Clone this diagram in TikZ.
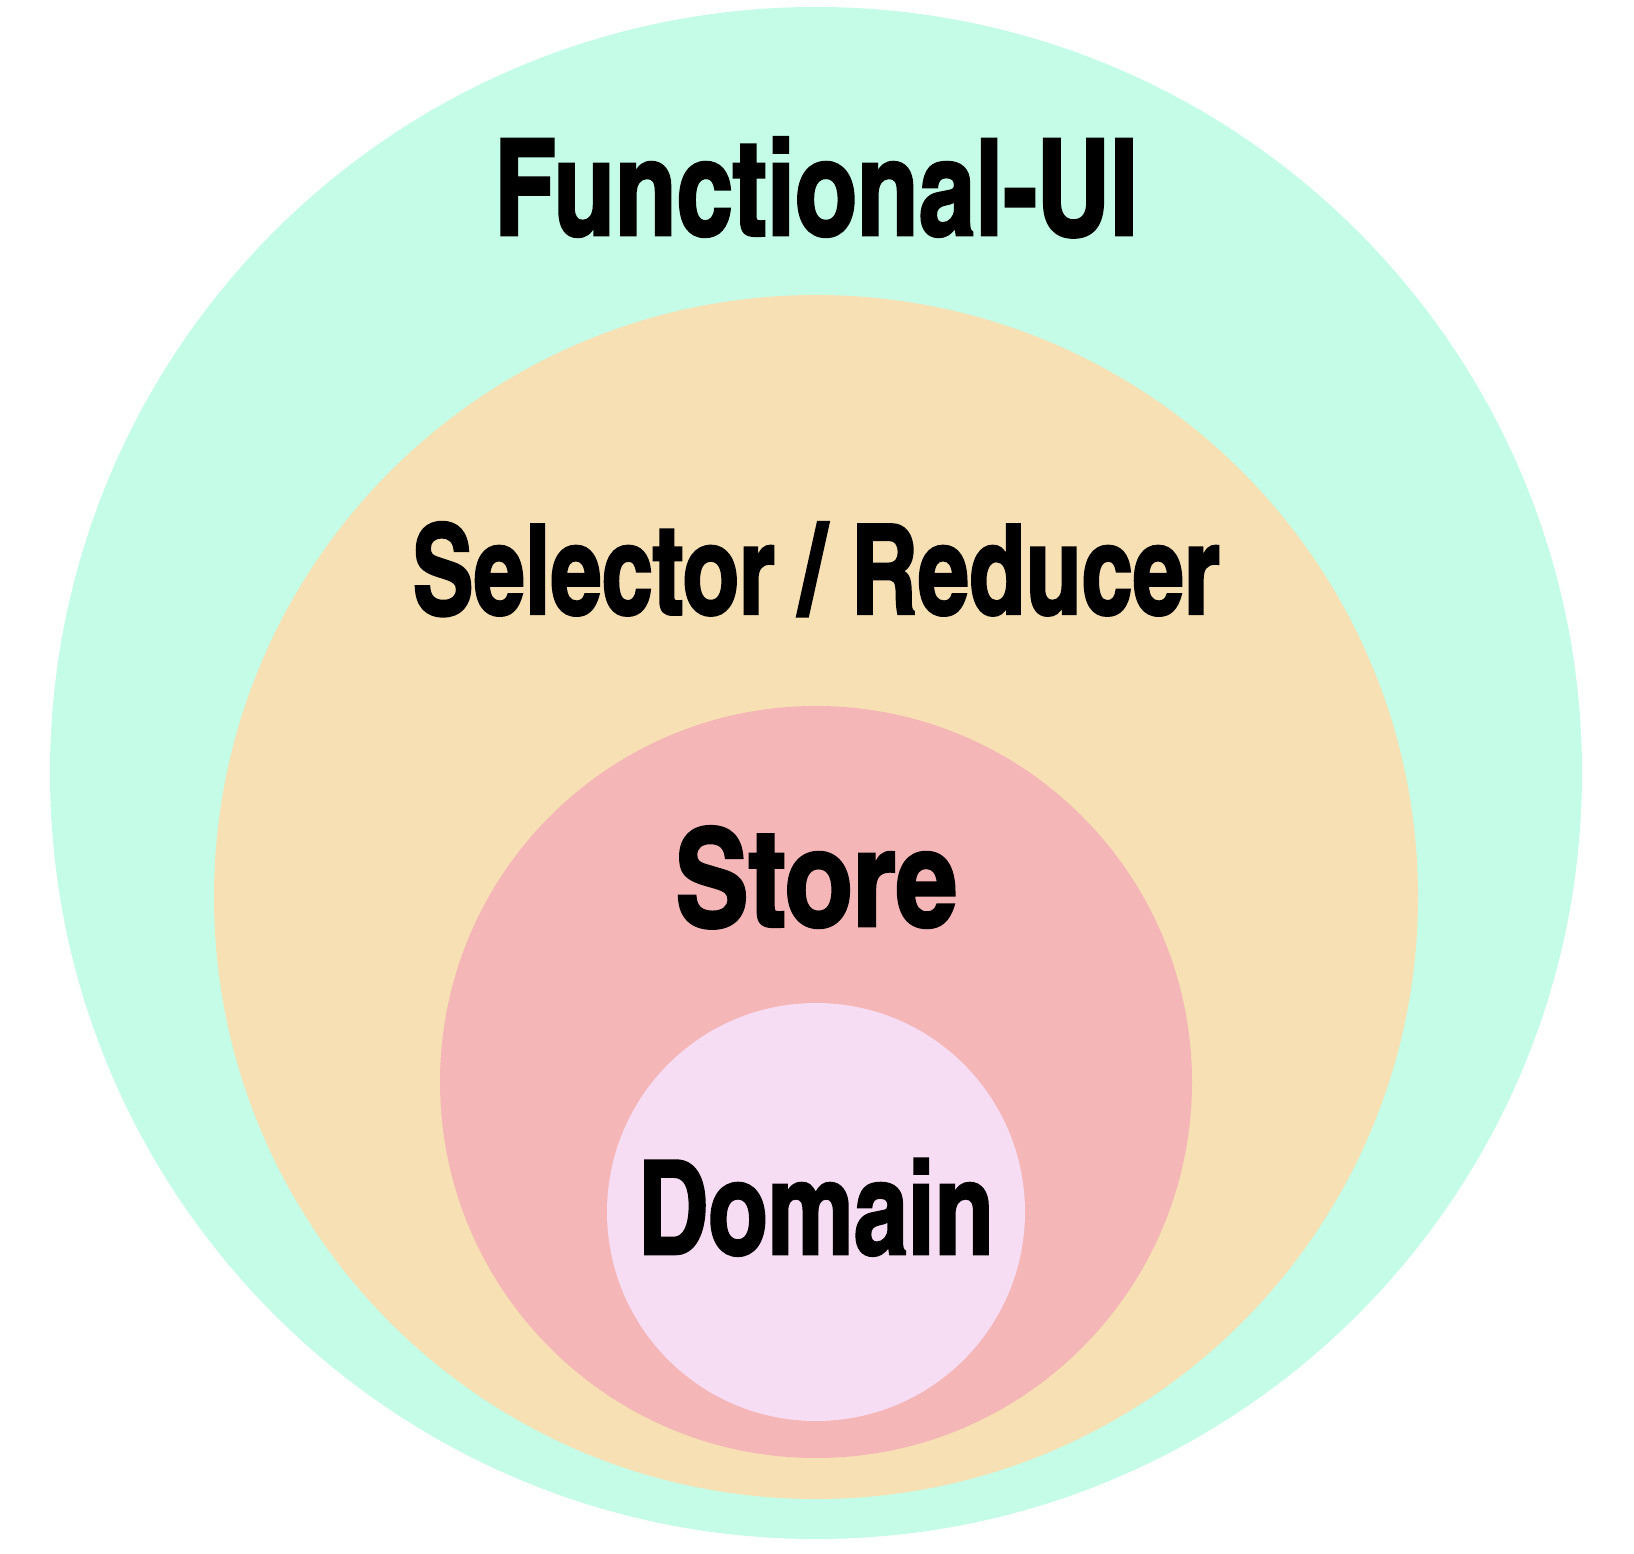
\documentclass[tikz,border=0pt]{standalone}
\usepackage{fontspec}
\usepackage{tikz}
\newfontfamily\layerfont[Extension=.otf, FakeBold=2]{texgyreheroscn-bold}
\definecolor{uimint}{RGB}{196,252,232}
\definecolor{selsand}{RGB}{247,224,180}
\definecolor{storerose}{RGB}{244,182,182}
\definecolor{domainpink}{RGB}{247,221,243}
\tikzstyle{layer} = [anchor=base, inner sep=0pt]

\begin{document}
\begin{tikzpicture}
    \useasboundingbox (0,0) rectangle (16.34,-15.54);
    \fill [uimint] (8.16,-7.73) circle (7.66);
    \fill [selsand] (8.16,-8.97) circle (6.02);
    \fill [storerose] (8.16,-10.82) circle (3.76);
    \fill [domainpink] (8.16,-12.12) circle (2.09);

    \node (ui) [layer, xscale=0.925, font=\layerfont\fontsize{38}{40}\selectfont] at (8.16,-2.35) {Functional-UI};
    \node (sel) [layer, xscale=0.9, font=\layerfont\fontsize{35.5}{38}\selectfont] at (8.16,-6.14) {Selector / Reducer};
    \node (store) [layer, font=\layerfont\fontsize{38.5}{40}\selectfont] at (8.16,-9.26) {Store};
    \node (dom) [layer, xscale=0.91, font=\layerfont\fontsize{37}{40}\selectfont] at (8.16,-12.54) {Domain};
    \end{tikzpicture}
\end{document}
